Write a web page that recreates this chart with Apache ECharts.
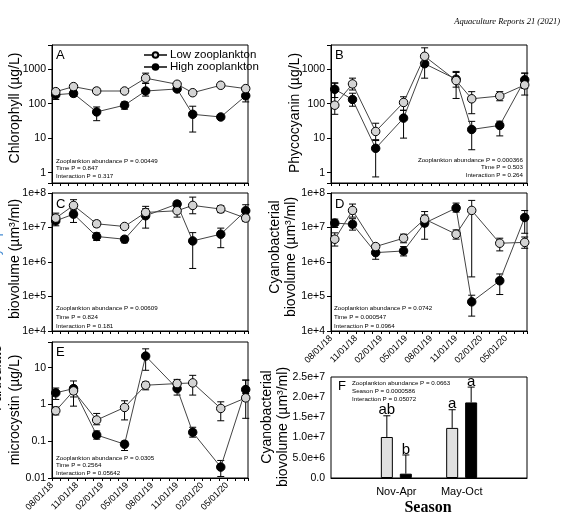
<!DOCTYPE html>
<html>
<head>
<meta charset="utf-8">
<script src="https://cdn.jsdelivr.net/npm/echarts@6/dist/echarts.min.js"></script>
<style>html,body{margin:0;padding:0;background:#fff}#chart{width:564px;height:522px}</style>
</head>
<body>
<div id="chart"></div>
<script>
// sampling dates shared by panels A-E
var dates = ['2018-08-15', '2018-10-19', '2019-01-12', '2019-04-22', '2019-07-08', '2019-11-01', '2019-12-28', '2020-04-08', '2020-07-08'];

// A chlorophyll (ug/L)
var chlLow = [222, 311, 232, 232, 546, 364, 207, 340, 272];
var chlLowLo = [200, 285, 205, 210, 390, 330, 190, 315, 245];
var chlLowHi = [250, 340, 278, 255, 765, 400, 225, 370, 300];
var chlHigh = [181, 198, 57.5, 90, 232, 266, 49, 41, 169];
var chlHighLo = [132, 160, 32, 69, 165, 235, 15, 36, 112];
var chlHighHi = [248, 240, 80, 112, 387, 300, 84, 47, 248];

// B phycocyanin (ug/L)
var pcLow = [90, 372, 15.6, 108, 2356, 466, 138, 166, 348];
var pcLowLo = [49, 248, 9, 64, 1200, 141, 51, 121, 177];
var pcLowHi = [389, 547, 27, 158, 4140, 857, 222, 222, 765];
var pcHigh = [260, 132, 5.06, 38, 1436, 510, 17.8, 23.4, 488];
var pcHighLo = [150, 84, 0.75, 10, 546, 300, 4.6, 11.6, 275];
var pcHighHi = [400, 200, 8.5, 64, 2300, 800, 30.6, 31, 765];

// C phytoplankton biovolume (um3/ml)
var phyLow = [1.87e7, 4.37e7, 1.28e7, 1.07e7, 2.73e7, 3.06e7, 4.37e7, 3.42e7, 1.87e7];
var phyLowLo = [1.4e7, 3.2e7, 1.05e7, 9.5e6, 2.0e7, 2.0e7, 2.5e7, 2.7e7, 1.5e7];
var phyLowHi = [2.61e7, 6.4e7, 1.55e7, 1.2e7, 4.1e7, 3.7e7, 7.6e7, 4.3e7, 2.3e7];
var phyHigh = [1.56e7, 2.44e7, 5.5e6, 4.57e6, 2.19e7, 4.78e7, 4.09e6, 6.4e6, 3.06e7];
var phyHighLo = [1.12e7, 1.4e7, 4.2e6, 3.6e6, 9.6e6, 3.9e7, 6.5e5, 2.6e6, 2.0e7];
var phyHighHi = [2.0e7, 3.5e7, 7.0e6, 5.5e6, 3.5e7, 5.8e7, 7.1e6, 9.6e6, 4.57e7];

// D cyanobacterial biovolume (um3/ml)
var cyaLow = [4.57e6, 3.13e7, 2.8e6, 4.9e6, 1.75e7, 6.4e6, 3.13e7, 3.5e6, 3.7e6];
var cyaLowLo = [2.9e6, 2.0e7, 2.3e6, 3.6e6, 1.1e7, 4.6e6, 3.7e5, 2.1e6, 2.5e6];
var cyaLowHi = [7.0e6, 4.78e7, 3.3e6, 6.4e6, 2.9e7, 8.5e6, 6.1e7, 4.9e6, 5.3e6];
var cyaHigh = [1.34e7, 1.25e7, 1.87e6, 2.09e6, 1.34e7, 3.66e7, 7.0e4, 2.86e5, 1.95e7];
var cyaHighLo = [1.0e7, 8.4e6, 1.2e6, 1.5e6, 4.57e6, 2.8e7, 2.7e4, 1.14e5, 6.8e6];
var cyaHighHi = [1.75e7, 1.8e7, 2.6e6, 2.8e6, 2.3e7, 5.1e7, 1.09e5, 4.5e5, 3.1e7];

// E particulate microcystin (ug/L)
var mcLow = [0.674, 2.34, 0.378, 0.83, 3.34, 3.7, 3.86, 0.78, 1.51];
var mcLowLo = [0.52, 1.6, 0.28, 0.38, 2.5, 3.0, 1.8, 0.36, 0.42];
var mcLowHi = [0.85, 3.2, 0.57, 1.26, 4.1, 4.8, 6.2, 1.18, 4.6];
var mcHigh = [2.07, 2.7, 0.148, 0.083, 20.7, 2.7, 0.175, 0.0198, 2.54];
var mcHighLo = [1.37, 0.9, 0.114, 0.056, 8.5, 1.8, 0.129, 0.011, 1.98];
var mcHighHi = [2.8, 4.36, 0.19, 0.1, 32.6, 3.3, 0.24, 0.030, 4.6];

// F seasonal cyanobacterial biovolume
var seasons = ['Nov-Apr', 'May-Oct'];
var fLow = [1.015e7, 1.24e7];
var fLowHi = [1.54e7, 1.69e7];
var fHigh = [1.07e6, 1.87e7];
var fHighHi = [5.7e6, 2.25e7];
var fLowLetters = ['ab', 'a'];
var fHighLetters = ['b', 'a'];

var stats = [
    ['Zooplankton abundance P = 0.00449', 'Time P = 0.847', 'Interaction P = 0.317'],
    ['Zooplankton abundance P = 0.000366', 'Time P = 0.503', 'Interaction P = 0.264'],
    ['Zooplankton abundance P = 0.00609', 'Time P = 0.824', 'Interaction P = 0.181'],
    ['Zooplankton abundance P = 0.0742', 'Time P = 0.000547', 'Interaction P = 0.0964'],
    ['Zooplankton abundance P = 0.0305', 'Time P = 0.2564', 'Interaction P = 0.05642'],
    ['Zooplankton abundance P = 0.0663', 'Season P = 0.0000586', 'Interaction P = 0.05072']
];

var FONT = 'Liberation Sans';

// months since 08/01/18
function monthsOf(s) {
    var p = s.split('-').map(Number);
    var dim = new Date(p[0], p[1], 0).getDate();
    return (p[0] - 2018) * 12 + (p[1] - 8) + (p[2] - 1) / dim;
}
var xs = dates.map(monthsOf);

function pad(n) { return (n < 10 ? '0' : '') + n; }
function monthLabel(v) {
    if (Math.abs(v % 3) > 1e-6) return '';
    var d = new Date(2018, 7 + Math.round(v), 1);
    return pad(d.getMonth() + 1) + '/01/' + pad(d.getFullYear() % 100);
}
function decade(v) {
    var e = Math.log10(v);
    return Math.abs(e - Math.round(e)) < 1e-6 ? Math.round(e) : null;
}
function plainLog(v) {
    var e = decade(v);
    return e === null ? '' : String(Math.pow(10, e) >= 1 ? Math.round(Math.pow(10, e)) : +Math.pow(10, e).toPrecision(3));
}
function expLog(v) {
    var e = decade(v);
    return e === null ? '' : '1e+' + e;
}

var grids = [
    {left: 52, top: 45, width: 196, height: 138},
    {left: 331, top: 45, width: 196, height: 138},
    {left: 52, top: 193, width: 196, height: 138},
    {left: 331, top: 193, width: 196, height: 138},
    {left: 52, top: 342, width: 196, height: 136},
    {left: 331, top: 377, width: 196, height: 101}
];
grids.forEach(function (g) {
    g.show = true;
    g.borderColor = '#000';
    g.borderWidth = 1;
});

var xAxes = [];
for (var i = 0; i < 5; i++) {
    xAxes.push({
        type: 'value', gridIndex: i, min: 0, max: 23.5, interval: 3,
        axisLine: {lineStyle: {color: '#000'}},
        axisTick: {length: 3, lineStyle: {color: '#000'}},
        minorTick: {show: true, splitNumber: 3, length: 3, lineStyle: {color: '#000'}},
        splitLine: {show: false},
        axisLabel: {
            show: i >= 3, rotate: 45, fontSize: 9, fontFamily: FONT, color: '#000',
            margin: 6, showMaxLabel: false, formatter: monthLabel
        }
    });
}
xAxes.push({
    type: 'category', gridIndex: 5, boundaryGap: false,
    data: [''].concat(seasons, ['']),
    axisLine: {lineStyle: {color: '#000'}},
    axisTick: {show: false},
    axisLabel: {interval: 0, fontSize: 11, fontFamily: FONT, color: '#000', margin: 8}
});

function logAxis(idx, min, max, fmt) {
    return {
        type: 'log', logBase: 10, gridIndex: idx, min: min, max: max,
        axisLine: {lineStyle: {color: '#000'}},
        axisTick: {length: 4, lineStyle: {color: '#000'}},
        splitLine: {show: false},
        axisLabel: {fontSize: 10.5, fontFamily: FONT, color: '#000', margin: 6, formatter: fmt}
    };
}
var yAxes = [
    logAxis(0, 0.5, 5000, plainLog),
    logAxis(1, 0.5, 5000, plainLog),
    logAxis(2, 1e4, 1e8, expLog),
    logAxis(3, 1e4, 1e8, expLog),
    logAxis(4, 0.01, 50, plainLog),
    {
        type: 'value', gridIndex: 5, min: 0, max: 2.5e7, interval: 5e6,
        axisLine: {lineStyle: {color: '#000'}},
        axisTick: {length: 4, lineStyle: {color: '#000'}},
        splitLine: {show: false},
        axisLabel: {
            fontSize: 10.5, fontFamily: FONT, color: '#000', margin: 6,
            formatter: function (v) { return v === 0 ? '0.0' : v.toExponential(1); }
        }
    }
];

function errorBars(idx, lo, hi) {
    return {
        type: 'custom', xAxisIndex: idx, yAxisIndex: idx, z: 1, silent: true,
        encode: {x: 0, y: [1, 2]},
        data: xs.map(function (x, k) { return [x, lo[k], hi[k]]; }),
        renderItem: function (params, api) {
            var a = api.coord([api.value(0), api.value(1)]);
            var b = api.coord([api.value(0), api.value(2)]);
            var st = {stroke: '#000', lineWidth: 1};
            return {type: 'group', children: [
                {type: 'line', shape: {x1: a[0], y1: a[1], x2: b[0], y2: b[1]}, style: st},
                {type: 'line', shape: {x1: a[0] - 3.5, y1: a[1], x2: a[0] + 3.5, y2: a[1]}, style: st},
                {type: 'line', shape: {x1: b[0] - 3.5, y1: b[1], x2: b[0] + 3.5, y2: b[1]}, style: st}
            ]};
        }
    };
}
function lineSeries(idx, name, vals, fill) {
    return {
        type: 'line', name: name, xAxisIndex: idx, yAxisIndex: idx, z: fill === '#000' ? 3 : 4,
        data: xs.map(function (x, k) { return [x, vals[k]]; }),
        symbol: 'circle', symbolSize: 8.5,
        itemStyle: {color: fill, borderColor: '#000', borderWidth: 1},
        lineStyle: {color: '#444', width: 1}
    };
}

var panels = [
    [chlLow, chlLowLo, chlLowHi, chlHigh, chlHighLo, chlHighHi],
    [pcLow, pcLowLo, pcLowHi, pcHigh, pcHighLo, pcHighHi],
    [phyLow, phyLowLo, phyLowHi, phyHigh, phyHighLo, phyHighHi],
    [cyaLow, cyaLowLo, cyaLowHi, cyaHigh, cyaHighLo, cyaHighHi],
    [mcLow, mcLowLo, mcLowHi, mcHigh, mcHighLo, mcHighHi]
];
var series = [];
panels.forEach(function (p, idx) {
    series.push(errorBars(idx, p[4], p[5]));
    series.push(errorBars(idx, p[1], p[2]));
    series.push(lineSeries(idx, 'High zooplankton', p[3], '#000'));
    series.push(lineSeries(idx, 'Low zooplankton', p[0], '#d4d4d4'));
});

// panel F: bars + upper error bars with letters
function padCats(arr) { return [null].concat(arr, [null]); }
series.push({
    type: 'bar', xAxisIndex: 5, yAxisIndex: 5, barWidth: 12, barGap: '58%',
    data: padCats(fLow), itemStyle: {color: '#e0e0e0', borderColor: '#000', borderWidth: 1}
});
series.push({
    type: 'bar', xAxisIndex: 5, yAxisIndex: 5, barWidth: 12, barGap: '58%',
    data: padCats(fHigh), itemStyle: {color: '#000', borderColor: '#000', borderWidth: 1}
});
function barErrors(vals, his, letters, shift) {
    return {
        type: 'custom', xAxisIndex: 5, yAxisIndex: 5, z: 5, silent: true,
        encode: {x: 0, y: [1, 2]},
        data: vals.map(function (v, k) { return [k + 1, v, his[k], letters[k]]; }),
        renderItem: function (params, api) {
            var a = api.coord([api.value(0), api.value(1)]);
            var b = api.coord([api.value(0), api.value(2)]);
            var x = a[0] + shift;
            var st = {stroke: '#000', lineWidth: 1};
            return {type: 'group', children: [
                {type: 'line', shape: {x1: x, y1: a[1], x2: x, y2: b[1]}, style: st},
                {type: 'line', shape: {x1: x - 3.5, y1: b[1], x2: x + 3.5, y2: b[1]}, style: st},
                {type: 'text', style: {text: letters[params.dataIndex], x: x, y: b[1] + 2,
                    align: 'center', verticalAlign: 'bottom', fontSize: 15, fontFamily: FONT, fill: '#000'}}
            ]};
        }
    };
}
series.push(barErrors(fLow, fLowHi, fLowLetters, -9.5));
series.push(barErrors(fHigh, fHighHi, fHighLetters, 9.5));

// texts
var graphics = [];
function txt(s, x, y, o) {
    var st = {text: s, x: 0, y: 0, fontFamily: FONT, fontSize: 14, fill: '#000', align: 'center', verticalAlign: 'middle'};
    var el = {type: 'text', x: x, y: y, rotation: 0, style: st, z: 10};
    if (o) {
        for (var k in o) {
            if (k === 'rotation') el.rotation = o[k]; else st[k] = o[k];
        }
    }
    graphics.push(el);
}
var V = {rotation: Math.PI / 2};
txt('Aquaculture Reports 21 (2021)', 560, 22, {align: 'right', fontFamily: 'Liberation Serif', fontStyle: 'italic', fontSize: 8.5});
txt('Chlorophyll (µg/L)', 15, 108, V);
txt('Phycocyanin (µg/L)', 295, 113, V);
txt('Phytoplankton', -3.5, 228, {rotation: Math.PI / 2, fill: '#4a8fd4'});
txt('biovolume (µm³/ml)', 15, 259, V);
txt('Cyanobacterial', 275, 247, V);
txt('biovolume (µm³/ml)', 291, 257, V);
txt('Particulate', -2.5, 378, V);
txt('microcystin (µg/L)', 15, 410, V);
txt('Cyanobacterial', 267, 417, V);
txt('biovolume (µm³/ml)', 283, 427, V);
txt('Season', 428, 508, {fontFamily: 'Liberation Serif', fontWeight: 'bold', fontSize: 16});

var letters = [['A', 56, 55], ['B', 335, 55], ['C', 56, 204], ['D', 335, 204], ['E', 56, 352], ['F', 338, 386]];
letters.forEach(function (l) { txt(l[0], l[1], l[2], {align: 'left', fontSize: 13}); });

var statPos = [
    [56, 161, 'left'], [523, 160, 'right'], [56, 308, 'left'],
    [334, 308, 'left'], [56, 458, 'left'], [352, 383, 'left']
];
var statGaps = [7.5, 7.5, 9, 9, 7.5, 8];
stats.forEach(function (lines, k) {
    lines.forEach(function (s, j) {
        txt(s, statPos[k][0], statPos[k][1] + j * statGaps[k],
            {align: statPos[k][2], fontSize: 6.2, letterSpacing: -0.1});
    });
});

var chart = echarts.init(document.getElementById('chart'));
chart.setOption({
    animation: false,
    backgroundColor: '#fff',
    grid: grids,
    xAxis: xAxes,
    yAxis: yAxes,
    legend: {
        data: ['Low zooplankton', 'High zooplankton'],
        orient: 'vertical', left: 143, top: 49, padding: 0,
        itemWidth: 23, itemHeight: 7, itemGap: 0, selectedMode: false,
        textStyle: {fontSize: 11.5, lineHeight: 10, fontFamily: FONT, color: '#000', padding: [0, 0, 0, -2]}
    },
    series: series,
    graphic: graphics
});
</script>
</body>
</html>
